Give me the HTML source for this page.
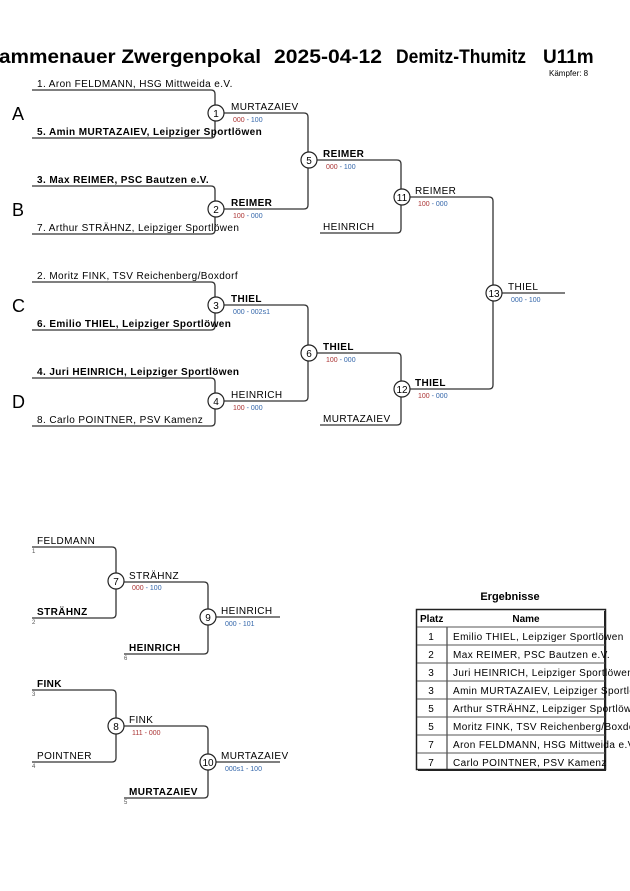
<!DOCTYPE html>
<html><head><meta charset="utf-8"><style>body{margin:0;background:#fff}svg{display:block}text{font-family:"Liberation Sans",Arial,sans-serif}.n text{letter-spacing:0.4px}</style></head><body>
<svg width="630" height="891" viewBox="0 0 630 891" xmlns="http://www.w3.org/2000/svg">
<g fill="none" stroke="#333" stroke-width="1.3">
<path d="M32 90H211q4 0 4 4V134q0 4-4 4H32"/>
<path d="M32 186H211q4 0 4 4V230q0 4-4 4H32"/>
<path d="M32 282H211q4 0 4 4V326q0 4-4 4H32"/>
<path d="M32 378H211q4 0 4 4V422q0 4-4 4H32"/>
<path d="M224 113H304q4 0 4 4V205q0 4-4 4H224"/>
<path d="M224 305H304q4 0 4 4V397q0 4-4 4H224"/>
<path d="M317 160H397q4 0 4 4V229q0 4-4 4H320"/>
<path d="M317 353H397q4 0 4 4V421q0 4-4 4H320"/>
<path d="M410 197H489q4 0 4 4V385q0 4-4 4H410"/>
<path d="M502 293H565"/>
<path d="M32 547H112q4 0 4 4V614q0 4-4 4H32"/>
<path d="M124 582H204q4 0 4 4V650q0 4-4 4H124"/>
<path d="M216 617H280"/>
<path d="M32 690H112q4 0 4 4V758q0 4-4 4H32"/>
<path d="M124 726H204q4 0 4 4V794q0 4-4 4H124"/>
<path d="M216 762H280"/>
</g>
<g fill="#fff" stroke="#222" stroke-width="1.2">
<circle cx="216" cy="113" r="8"/><circle cx="216" cy="209" r="8"/><circle cx="216" cy="305" r="8"/><circle cx="216" cy="401" r="8"/>
<circle cx="309" cy="160" r="8"/><circle cx="309" cy="353" r="8"/><circle cx="402" cy="197" r="8"/><circle cx="402" cy="389" r="8"/><circle cx="494" cy="293" r="8"/>
<circle cx="116" cy="581" r="8"/><circle cx="208" cy="617" r="8"/><circle cx="116" cy="726" r="8"/><circle cx="208" cy="762" r="8"/>
</g>
<g font-size="10" text-anchor="middle" fill="#000">
<text x="216" y="117">1</text><text x="216" y="213">2</text><text x="216" y="309">3</text><text x="216" y="405">4</text>
<text x="309" y="164">5</text><text x="309" y="357">6</text><text x="402" y="201">11</text><text x="402" y="393">12</text><text x="494" y="297">13</text>
<text x="116" y="585">7</text><text x="208" y="621">9</text><text x="116" y="730">8</text><text x="208" y="766">10</text>
</g>
<g font-size="19" font-weight="bold">
<text x="-1" y="63" textLength="262" lengthAdjust="spacingAndGlyphs">ammenauer Zwergenpokal</text>
<text x="274" y="63" textLength="108" lengthAdjust="spacingAndGlyphs">2025-04-12</text>
<text x="396" y="63" textLength="130" lengthAdjust="spacingAndGlyphs">Demitz-Thumitz</text>
<text x="543" y="63">U11m</text>
</g>
<text x="549" y="76" font-size="8">Kämpfer: 8</text>
<g font-size="18"><text x="12" y="120">A</text><text x="12" y="216">B</text><text x="12" y="312">C</text><text x="12" y="408">D</text></g>
<g font-size="10" class="n">
<text x="37" y="87">1. Aron FELDMANN, HSG Mittweida e.V.</text>
<text x="37" y="135" font-weight="bold">5. Amin MURTAZAIEV, Leipziger Sportlöwen</text>
<text x="37" y="183" font-weight="bold">3. Max REIMER, PSC Bautzen e.V.</text>
<text x="37" y="231">7. Arthur STRÄHNZ, Leipziger Sportlöwen</text>
<text x="37" y="279">2. Moritz FINK, TSV Reichenberg/Boxdorf</text>
<text x="37" y="327" font-weight="bold">6. Emilio THIEL, Leipziger Sportlöwen</text>
<text x="37" y="375" font-weight="bold">4. Juri HEINRICH, Leipziger Sportlöwen</text>
<text x="37" y="423">8. Carlo POINTNER, PSV Kamenz</text>
<text x="231" y="110">MURTAZAIEV</text>
<text x="231" y="206" font-weight="bold">REIMER</text>
<text x="231" y="302" font-weight="bold">THIEL</text>
<text x="231" y="398">HEINRICH</text>
<text x="323" y="157" font-weight="bold">REIMER</text>
<text x="323" y="230">HEINRICH</text>
<text x="323" y="350" font-weight="bold">THIEL</text>
<text x="323" y="422">MURTAZAIEV</text>
<text x="415" y="194">REIMER</text>
<text x="415" y="386" font-weight="bold">THIEL</text>
<text x="508" y="290">THIEL</text>
<text x="37" y="544">FELDMANN</text>
<text x="37" y="615" font-weight="bold">STRÄHNZ</text>
<text x="129" y="579">STRÄHNZ</text>
<text x="129" y="651" font-weight="bold">HEINRICH</text>
<text x="221" y="614">HEINRICH</text>
<text x="37" y="687" font-weight="bold">FINK</text>
<text x="37" y="759">POINTNER</text>
<text x="129" y="723">FINK</text>
<text x="129" y="795" font-weight="bold">MURTAZAIEV</text>
<text x="221" y="759">MURTAZAIEV</text>
</g>
<g font-size="6" fill="#555">
<text x="32" y="553">1</text><text x="32" y="624">2</text><text x="124" y="660">6</text>
<text x="32" y="696">3</text><text x="32" y="768">4</text><text x="124" y="804">5</text>
</g>
<g font-size="7">
<text x="233" y="122"><tspan fill="#a33">000</tspan><tspan fill="#36a"> - 100</tspan></text>
<text x="233" y="218"><tspan fill="#a33">100</tspan><tspan fill="#36a"> - 000</tspan></text>
<text x="233" y="314"><tspan fill="#36a">000 - 002s1</tspan></text>
<text x="233" y="410"><tspan fill="#a33">100</tspan><tspan fill="#36a"> - 000</tspan></text>
<text x="326" y="169"><tspan fill="#a33">000</tspan><tspan fill="#36a"> - 100</tspan></text>
<text x="326" y="362"><tspan fill="#a33">100</tspan><tspan fill="#36a"> - 000</tspan></text>
<text x="418" y="206"><tspan fill="#a33">100</tspan><tspan fill="#36a"> - 000</tspan></text>
<text x="418" y="398"><tspan fill="#a33">100</tspan><tspan fill="#36a"> - 000</tspan></text>
<text x="511" y="302"><tspan fill="#36a">000 - 100</tspan></text>
<text x="132" y="590"><tspan fill="#a33">000</tspan><tspan fill="#36a"> - 100</tspan></text>
<text x="225" y="626"><tspan fill="#36a">000 - 101</tspan></text>
<text x="132" y="735"><tspan fill="#a33">111 - 000</tspan></text>
<text x="225" y="771"><tspan fill="#36a">000s1 - 100</tspan></text>
</g>
<text x="510" y="600" font-size="11" font-weight="bold" text-anchor="middle">Ergebnisse</text>
<g stroke="#222" fill="none">
<rect x="416.5" y="609.5" width="189" height="160" stroke-width="1.5"/>
<path d="M605 611V771M418 770H606" stroke-width="2"/>
<path d="M447 627V769" stroke-width="1"/>
<path d="M417 627H605M417 645H605M417 663H605M417 681H605M417 699H605M417 717H605M417 735H605M417 753H605" stroke-width="1" stroke="#555"/>
</g>
<g font-size="10">
<text x="420" y="622" font-weight="bold">Platz</text>
<text x="526" y="622" font-weight="bold" text-anchor="middle">Name</text>
<g text-anchor="middle"><text x="431" y="640">1</text><text x="431" y="658">2</text><text x="431" y="676">3</text><text x="431" y="694">3</text><text x="431" y="712">5</text><text x="431" y="730">5</text><text x="431" y="748">7</text><text x="431" y="766">7</text></g>
<g class="n">
<text x="453" y="640">Emilio THIEL, Leipziger Sportlöwen</text>
<text x="453" y="658">Max REIMER, PSC Bautzen e.V.</text>
<text x="453" y="676">Juri HEINRICH, Leipziger Sportlöwen</text>
<text x="453" y="694">Amin MURTAZAIEV, Leipziger Sportlöwen</text>
<text x="453" y="712">Arthur STRÄHNZ, Leipziger Sportlöwen</text>
<text x="453" y="730">Moritz FINK, TSV Reichenberg/Boxdorf</text>
<text x="453" y="748">Aron FELDMANN, HSG Mittweida e.V.</text>
<text x="453" y="766">Carlo POINTNER, PSV Kamenz</text>
</g>
</g>
</svg>
</body></html>
